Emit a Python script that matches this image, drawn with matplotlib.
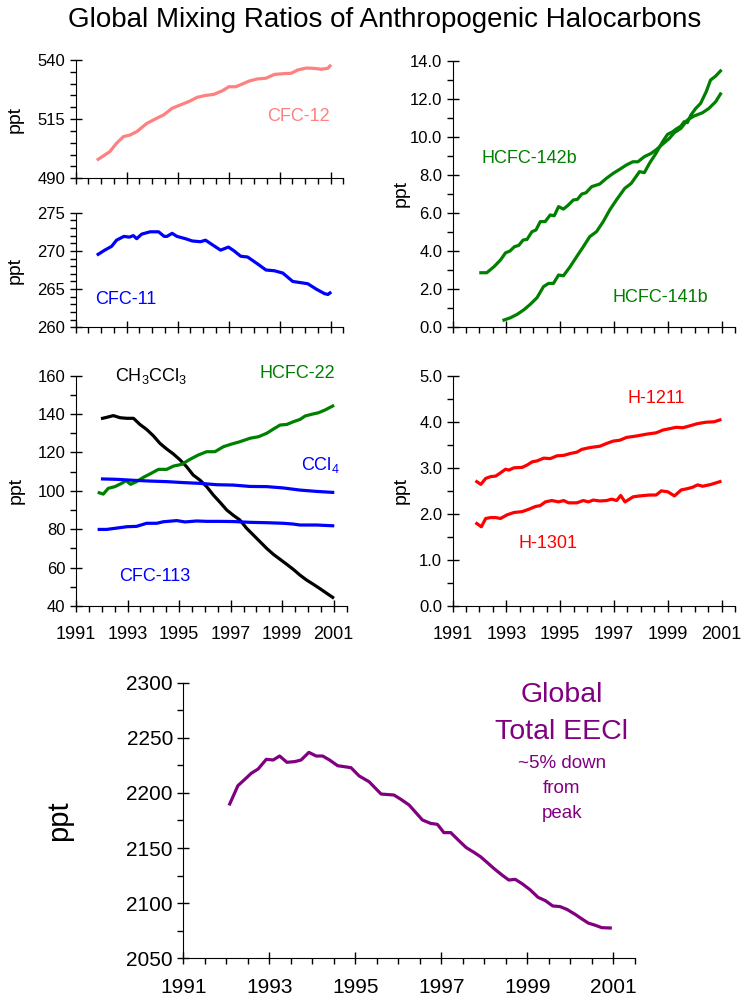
import matplotlib
matplotlib.use('Agg')
import matplotlib.pyplot as plt
from matplotlib.ticker import MultipleLocator, FormatStrFormatter

plt.rcParams['font.family'] = ['Liberation Sans', 'DejaVu Sans']
plt.rcParams['mathtext.fontset'] = 'custom'
plt.rcParams['mathtext.rm'] = 'Liberation Sans'

# CFC-12
cfc12_yr = [1991.88, 1992.34, 1992.6, 1992.87, 1993.13, 1993.39, 1993.79, 1994.18, 1994.45, 1994.78,
            1995.1, 1995.43, 1995.76, 1996.03, 1996.42, 1996.75, 1997.01, 1997.28, 1997.54, 1997.8,
            1998.13, 1998.46, 1998.79, 1999.12, 1999.45, 1999.71, 2000.04, 2000.3, 2000.63, 2000.89, 2000.97]
cfc12 = [498.0, 501.3, 504.8, 507.6, 508.3, 509.7, 513.2, 515.4, 516.8, 519.6,
         521.0, 522.4, 524.2, 524.9, 525.5, 527.0, 528.7, 528.7, 529.9, 531.1,
         532.0, 532.3, 533.9, 534.2, 534.4, 535.8, 536.6, 536.5, 536.1, 536.5, 537.5]

# CFC-11
cfc11_yr = [1991.88, 1992.14, 1992.41, 1992.6, 1992.89, 1993.1, 1993.26, 1993.39, 1993.59, 1993.92,
            1994.25, 1994.47, 1994.58, 1994.78, 1994.97, 1995.3, 1995.57, 1995.89, 1996.09, 1996.36,
            1996.68, 1996.99, 1997.21, 1997.47, 1997.74, 1998.13, 1998.46, 1998.79, 1999.12, 1999.51,
            1999.91, 2000.1, 2000.43, 2000.76, 2000.89, 2000.97]
cfc11 = [269.55, 270.1, 270.6, 271.4, 271.9, 271.8, 272.0, 271.6, 272.2, 272.5,
         272.5, 271.9, 271.9, 272.3, 271.9, 271.6, 271.3, 271.2, 271.4, 270.8,
         270.1, 270.5, 270.0, 269.3, 269.2, 268.3, 267.5, 267.4, 267.1, 266.0,
         265.8, 265.7, 265.0, 264.4, 264.3, 264.5]

# CH3CCl3
mc_yr = [1992.03, 1992.19, 1992.45, 1992.71, 1992.97, 1993.23, 1993.48, 1993.74, 1994.0, 1994.26,
         1994.52, 1994.78, 1995.04, 1995.29, 1995.55, 1995.81, 1996.07, 1996.33, 1996.59, 1996.85,
         1997.11, 1997.36, 1997.62, 1997.88, 1998.14, 1998.4, 1998.66, 1998.92, 1999.18, 1999.43,
         1999.69, 1999.95, 2000.21, 2000.47, 2000.73, 2000.96]
mc = [137.8, 138.3, 139.2, 138.1, 137.8, 137.8, 134.6, 132.0, 128.7, 124.7,
      121.8, 119.2, 116.1, 112.6, 108.2, 105.6, 102.2, 97.8, 94.0, 90.0,
      87.2, 84.8, 80.5, 77.0, 73.5, 70.0, 66.9, 64.3, 61.7, 59.1,
      56.1, 53.5, 51.3, 49.0, 46.6, 44.5]

# HCFC-22
h22_yr = [1991.9, 1992.06, 1992.25, 1992.51, 1992.77, 1992.94, 1993.12, 1993.35, 1993.61, 1993.87,
          1994.2, 1994.52, 1994.78, 1995.1, 1995.42, 1995.75, 1996.07, 1996.39, 1996.72, 1997.04,
          1997.36, 1997.75, 1998.08, 1998.4, 1998.66, 1998.92, 1999.18, 1999.43, 1999.69, 1999.89,
          2000.15, 2000.41, 2000.66, 2000.96]
h22 = [99.0, 98.3, 101.3, 102.2, 103.9, 105.3, 103.4, 104.8, 107.0, 108.8,
       111.2, 111.2, 112.9, 113.8, 116.4, 118.7, 120.4, 120.4, 123.0, 124.4,
       125.6, 127.4, 128.2, 130.0, 132.2, 134.3, 134.6, 136.0, 137.2, 139.0,
       139.9, 140.7, 142.1, 144.2]

# CCl4
ccl4_yr = [1992.03, 1992.58, 1993.23, 1993.87, 1994.52, 1995.17, 1995.81, 1996.46, 1997.11, 1997.75,
           1998.4, 1999.05, 1999.69, 2000.34, 2000.96]
ccl4 = [106.2, 106.0, 105.5, 105.1, 104.8, 104.3, 103.9, 103.2, 103.0, 102.3,
        102.2, 101.5, 100.4, 99.7, 99.2]

# CFC-113
cfc113_yr = [1991.9, 1992.19, 1992.58, 1992.97, 1993.35, 1993.74, 1994.13, 1994.39, 1994.91, 1995.23,
             1995.68, 1996.07, 1996.59, 1997.11, 1997.75, 1998.4, 1999.05, 1999.43, 1999.69, 2000.34, 2000.96]
cfc113 = [79.9, 79.9, 80.6, 81.3, 81.5, 83.1, 83.1, 83.9, 84.5, 83.8,
          84.3, 84.1, 84.1, 84.0, 83.6, 83.4, 83.1, 82.7, 82.2, 82.2, 81.8]

# HCFC-142b
h142_yr = [1992.05, 1992.27, 1992.54, 1992.78, 1992.97, 1993.13, 1993.3, 1993.46, 1993.62, 1993.77,
           1993.95, 1994.1, 1994.26, 1994.44, 1994.63, 1994.78, 1994.94, 1995.12, 1995.3, 1995.49,
           1995.64, 1995.8, 1995.96, 1996.17, 1996.47, 1996.72, 1996.97, 1997.21, 1997.46, 1997.7,
           1997.89, 1998.13, 1998.38, 1998.56, 1998.81, 1999.06, 1999.24, 1999.49, 1999.73, 1999.98,
           2000.29, 2000.53, 2000.78, 2000.96]
h142 = [2.84, 2.84, 3.16, 3.51, 3.89, 3.98, 4.21, 4.28, 4.56, 4.6,
        5.0, 5.09, 5.53, 5.53, 5.88, 5.84, 6.32, 6.19, 6.4, 6.67,
        6.70, 6.98, 7.05, 7.37, 7.51, 7.81, 8.07, 8.28, 8.51, 8.68,
        8.68, 8.95, 9.12, 9.3, 9.61, 9.91, 10.21, 10.44, 10.88, 11.09,
        11.26, 11.49, 11.84, 12.25]

# HCFC-141b
h141_yr = [1992.91, 1993.15, 1993.4, 1993.64, 1993.89, 1994.14, 1994.38, 1994.57, 1994.75, 1994.94,
           1995.12, 1995.37, 1995.61, 1995.86, 1996.1, 1996.35, 1996.6, 1996.84, 1997.09, 1997.4,
           1997.64, 1997.95, 1998.13, 1998.32, 1998.56, 1998.81, 1998.99, 1999.18, 1999.3, 1999.49,
           1999.61, 1999.73, 1999.86, 2000.04, 2000.22, 2000.43, 2000.59, 2000.78, 2000.96]
h141 = [0.35, 0.47, 0.65, 0.88, 1.18, 1.53, 2.11, 2.28, 2.28, 2.72,
        2.68, 3.16, 3.68, 4.21, 4.74, 5.0, 5.53, 6.14, 6.67, 7.28,
        7.54, 8.16, 8.11, 8.6, 9.12, 9.74, 10.12, 10.26, 10.39, 10.56,
        10.79, 10.74, 11.14, 11.49, 11.75, 12.37, 12.98, 13.19, 13.46]

# H-1211
h1211_yr = [1991.9, 1992.05, 1992.23, 1992.42, 1992.6, 1992.78, 1992.97, 1993.09, 1993.28, 1993.59,
            1993.77, 1993.96, 1994.14, 1994.39, 1994.63, 1994.88, 1995.13, 1995.37, 1995.62, 1995.8,
            1996.11, 1996.48, 1996.73, 1996.97, 1997.22, 1997.47, 1997.83, 1998.2, 1998.57, 1998.82,
            1999.07, 1999.31, 1999.56, 1999.81, 2000.11, 2000.42, 2000.73, 2000.94]
h1211 = [2.70, 2.64, 2.77, 2.81, 2.82, 2.89, 2.97, 2.95, 3.0, 3.01,
         3.06, 3.13, 3.15, 3.21, 3.2, 3.26, 3.27, 3.31, 3.34, 3.40,
         3.44, 3.47, 3.53, 3.58, 3.6, 3.66, 3.69, 3.73, 3.76, 3.82,
         3.85, 3.88, 3.87, 3.91, 3.96, 3.99, 4.0, 4.04]

# H-1301
h1301_yr = [1991.9, 1992.07, 1992.23, 1992.42, 1992.6, 1992.78, 1993.03, 1993.28, 1993.59, 1993.83,
            1994.08, 1994.26, 1994.45, 1994.69, 1994.94, 1995.13, 1995.31, 1995.62, 1995.86, 1996.05,
            1996.23, 1996.48, 1996.73, 1996.91, 1997.1, 1997.25, 1997.41, 1997.71, 1997.96, 1998.33,
            1998.57, 1998.76, 1999.0, 1999.25, 1999.5, 1999.75, 1999.93, 2000.11, 2000.3, 2000.61, 2000.94]
h1301 = [1.79, 1.72, 1.90, 1.92, 1.92, 1.90, 1.98, 2.03, 2.05, 2.10,
         2.16, 2.18, 2.26, 2.29, 2.26, 2.29, 2.24, 2.24, 2.29, 2.26,
         2.30, 2.28, 2.29, 2.32, 2.29, 2.40, 2.26, 2.37, 2.39, 2.41,
         2.41, 2.50, 2.48, 2.39, 2.52, 2.55, 2.58, 2.63, 2.60, 2.64, 2.70]

# total EECl
eecl_yr = [1992.08, 1992.27, 1992.43, 1992.58, 1992.74, 1992.93, 1993.09, 1993.24, 1993.41, 1993.59,
           1993.74, 1993.92, 1994.09, 1994.24, 1994.4, 1994.59, 1994.75, 1994.9, 1995.09, 1995.32,
           1995.6, 1995.9, 1996.06, 1996.25, 1996.41, 1996.56, 1996.75, 1996.91, 1997.06, 1997.22,
           1997.41, 1997.58, 1997.76, 1997.91, 1998.07, 1998.22, 1998.41, 1998.57, 1998.72, 1998.89,
           1999.07, 1999.25, 1999.42, 1999.59, 1999.76, 1999.92, 2000.1, 2000.27, 2000.42, 2000.58,
           2000.73, 2000.93]
eecl = [2190.0, 2206.6, 2212.3, 2217.8, 2221.7, 2230.5, 2229.9, 2233.5, 2227.8, 2228.4,
        2229.9, 2236.8, 2233.5, 2233.5, 2229.9, 2224.7, 2223.8, 2222.9, 2215.4, 2210.2,
        2199.0, 2198.1, 2194.2, 2189.1, 2182.1, 2175.5, 2172.4, 2171.5, 2164.0, 2164.0,
        2156.7, 2150.4, 2146.1, 2142.2, 2136.8, 2131.6, 2125.6, 2121.0, 2121.6, 2117.4,
        2112.0, 2105.3, 2102.3, 2097.5, 2096.9, 2094.4, 2090.2, 2085.7, 2081.9, 2080.0,
        2077.8, 2077.5]

year_ticks = [1991, 1993, 1995, 1997, 1999, 2001]

W, H = 741, 1006
fig = plt.figure(figsize=(W / 100, H / 100), dpi=100)


def make_ax(l, r, t, b):
    return fig.add_axes([l / W, 1 - b / H, (r - l) / W, (b - t) / H])


def style(ax, ylim, yticks, ymin, fmt, fs=12, xlabels=False, xfs=13, ylabel_fs=14, ylabel_x=-0.2):
    ax.set_xlim(1991, 2001.5)
    ax.set_ylim(*ylim)
    for s in ['top', 'right']:
        ax.spines[s].set_visible(False)
    ax.set_xticks(year_ticks)
    ax.xaxis.set_minor_locator(MultipleLocator(0.5))
    ax.set_yticks(yticks)
    ax.yaxis.set_minor_locator(MultipleLocator(ymin))
    ax.yaxis.set_major_formatter(FormatStrFormatter(fmt))
    ax.tick_params(axis='x', which='major', direction='inout', length=9, width=1)
    ax.tick_params(axis='x', which='minor', direction='out', length=4, width=1)
    ax.tick_params(axis='y', which='major', direction='inout', length=9, width=1)
    ax.tick_params(axis='y', which='minor', direction='out', length=4, width=1)
    ax.tick_params(axis='y', labelsize=fs, pad=3)
    ax.tick_params(axis='x', labelsize=xfs, pad=10)
    if not xlabels:
        ax.set_xticklabels([])
    ax.set_ylabel('ppt', fontsize=ylabel_fs)
    ax.yaxis.set_label_coords(ylabel_x, 0.5)
    ax.patch.set_alpha(0)


lw = 2.3

# CFC-12
ax = make_ax(75.7, 343.5, 60, 178.3)
ax.plot(cfc12_yr, cfc12, color='#ff8080', lw=lw)
style(ax, (490, 540), [490, 515, 540], 5, '%d', ylabel_x=-0.193)
ax.text(1999.73, 516.3, 'CFC-12', color='#ff8080', fontsize=13, ha='center', va='center')

# CFC-11
ax = make_ax(75.7, 343.5, 212.7, 327.3)
ax.plot(cfc11_yr, cfc11, color='#0000ff', lw=lw)
style(ax, (260, 275), [260, 265, 270, 275], 1, '%d', ylabel_x=-0.193)
ax.text(1992.97, 263.6, 'CFC-11', color='#0000ff', fontsize=13, ha='center', va='center')

# CH3CCl3, HCFC-22, CCl4, CFC-113
ax = make_ax(76, 346.6, 375.7, 606)
ax.plot(mc_yr, mc, color='black', lw=lw)
ax.plot(h22_yr, h22, color='#008000', lw=lw)
ax.plot(ccl4_yr, ccl4, color='#0000ff', lw=lw)
ax.plot(cfc113_yr, cfc113, color='#0000ff', lw=lw)
style(ax, (40, 160), list(range(40, 161, 20)), 10, '%d', xlabels=True, ylabel_x=-0.188)
ax.text(1993.92, 160, r'CH$_3$CCl$_3$', color='black', fontsize=13, ha='center', va='center')
ax.text(1999.6, 161.25, 'HCFC-22', color='#008000', fontsize=13, ha='center', va='center')
ax.text(2000.48, 113.5, r'CCl$_4$', color='#0000ff', fontsize=13, ha='center', va='center')
ax.text(1994.04, 55.6, 'CFC-113', color='#0000ff', fontsize=13, ha='center', va='center')

# HCFC-142b, HCFC-141b
ax = make_ax(452.6, 735, 60.7, 326.7)
ax.plot(h142_yr, h142, color='#008000', lw=lw)
ax.plot(h141_yr, h141, color='#008000', lw=lw)
style(ax, (0, 14), [0, 2, 4, 6, 8, 10, 12, 14], 1, '%.1f', ylabel_x=-0.151)
ax.text(1993.84, 8.86, 'HCFC-142b', color='#008000', fontsize=13, ha='center', va='center')
ax.text(1998.74, 1.53, 'HCFC-141b', color='#008000', fontsize=13, ha='center', va='center')

# halons
ax = make_ax(452.6, 735, 375.7, 606)
ax.plot(h1211_yr, h1211, color='#ff0000', lw=lw)
ax.plot(h1301_yr, h1301, color='#ff0000', lw=lw)
style(ax, (0, 5), [0, 1, 2, 3, 4, 5], 0.5, '%.1f', xlabels=True, ylabel_x=-0.151)
ax.text(1998.59, 4.51, 'H-1211', color='#ff0000', fontsize=13, ha='center', va='center')
ax.text(1994.56, 1.36, 'H-1301', color='#ff0000', fontsize=13, ha='center', va='center')

# total EECl
purple = '#800080'
ax = make_ax(183.3, 634.8, 682.7, 958.3)
ax.plot(eecl_yr, eecl, color=purple, lw=lw)
style(ax, (2050, 2300), list(range(2050, 2301, 50)), 25, '%d', fs=15, xlabels=True,
      xfs=15, ylabel_fs=21, ylabel_x=-0.244)
ax.text(1999.8, 2288.8, 'Global', color=purple, fontsize=20.5, ha='center', va='center')
ax.text(1999.8, 2255.3, 'Total EECl', color=purple, fontsize=20.5, ha='center', va='center')
ax.text(1999.8, 2226.3, '~5% down', color=purple, fontsize=13.5, ha='center', va='center')
ax.text(1999.8, 2203.6, 'from', color=purple, fontsize=13.5, ha='center', va='center')
ax.text(1999.8, 2181.8, 'peak', color=purple, fontsize=13.5, ha='center', va='center')

fig.text(385 / W, 1 - 20 / H, 'Global Mixing Ratios of Anthropogenic Halocarbons',
         fontsize=20, ha='center', va='center')

fig.savefig('out.png', dpi=100)
